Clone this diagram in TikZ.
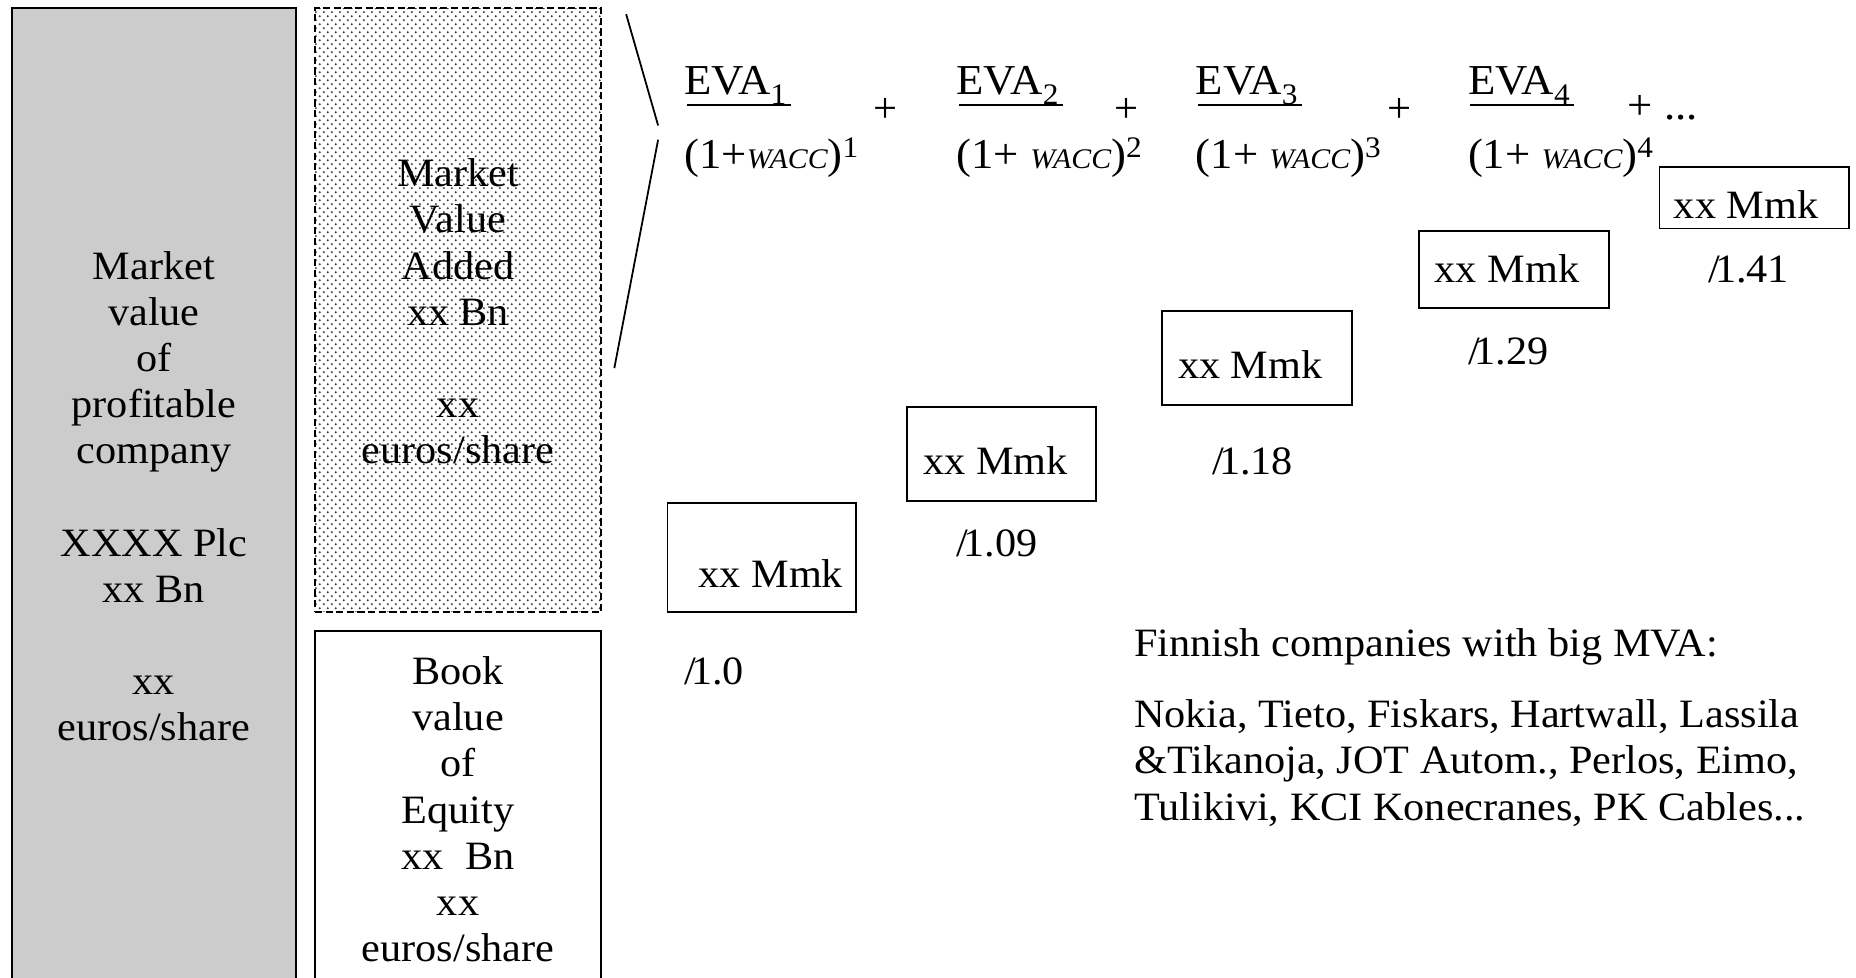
\documentclass[tikz,border=0pt]{standalone}
\usepackage{fontspec}
\setmainfont{Liberation Serif}
\usepackage{graphicx}
\usetikzlibrary{patterns.meta,calc}
\tikzdeclarepattern{
  name=mydots,
  type=uncolored,
  bottom left={(0pt,0pt)},
  top right={(7pt,7pt)},
  tile size={(7pt,7pt)},
  code={
    \pgfpathcircle{\pgfpoint{1.75pt}{1.75pt}}{1.05pt}
    \pgfpathcircle{\pgfpoint{5.25pt}{5.25pt}}{1.05pt}
    \pgfusepath{fill}
  }
}
\newcommand\fs{\fontsize{34}{39}\selectfont}
\newcommand\fsb{\fontsize{36}{40}\selectfont}
\newcommand\hs[1]{\scalebox{1.05}[1]{#1}}
\newcommand\wacc{{\itshape\fontsize{24}{24}\selectfont WACC}}
\newcommand\stackc[1]{\hs{\begin{tabular}{@{}c@{}}#1\end{tabular}}}
\begin{document}
\begin{tikzpicture}[x=1pt,y=-1pt,
  txt/.style={inner sep=0pt, font=\fs},
  eq/.style={inner sep=0pt, font=\fsb},
  bigbox/.style={draw, line width=1.6pt, inner sep=0pt},
  mbox/.style={draw, line width=1.5pt, inner sep=0pt},
  slashline/.style={line width=1.5pt},
  uline/.style={line width=1.6pt}]
\clip (0,0) rectangle (1568,826);
\fill[white] (0,0) rectangle (1568,826);
% left columns
\node[bigbox, fill=black!20, minimum width=240pt, minimum height=832pt] (mv) at (130,423) {};
\node[txt] (mvt) at (130,423)
  {\stackc{Market\\value\\of\\profitable\\company\\ \\XXXX Plc\\xx Bn\\ \\xx\\euros/share}};
\node[bigbox, dash pattern=on 6pt off 3pt, pattern={mydots}, pattern color=black!75,
  minimum width=242pt, minimum height=510pt] (mva) at (387,262) {};
\node[txt] (mvat) at (387,267)
  {\stackc{Market\\Value\\Added\\xx Bn\\ \\xx\\euros/share}};
\node[bigbox, minimum width=242pt, minimum height=309pt] (bv) at (387,687.5) {};
\node[txt] (bvt) at (387,687.5)
  {\stackc{Book\\value\\of\\Equity\\xx~~Bn\\xx\\euros/share}};
% brace lines
\coordinate (s1) at (529,12);
\coordinate (s2) at (556,106);
\coordinate (s3) at (556,118);
\coordinate (s4) at (519,311);
\draw[slashline] (s1) -- (s2);
\draw[slashline] (s3) -- (s4);
% fractions
\node[eq, anchor=base west] (n1) at (578,80) {\hs{EVA\textsubscript{1}}};
\node[eq, anchor=base west] (d1) at (578,142) {\hs{(1+\wacc)\textsuperscript{1}}};
\node[eq] (p1) at (748,93) {+};
\node[eq, anchor=base west] (n2) at (808,80) {\hs{EVA\textsubscript{2}}};
\node[eq, anchor=base west] (d2) at (808,142) {\hs{(1+ \wacc)\textsuperscript{2}}};
\node[eq] (p2) at (952,93) {+};
\node[eq, anchor=base west] (n3) at (1010,80) {\hs{EVA\textsubscript{3}}};
\node[eq, anchor=base west] (d3) at (1010,142) {\hs{(1+ \wacc)\textsuperscript{3}}};
\node[eq] (p3) at (1182,93) {+};
\node[eq, anchor=base west] (n4) at (1240,80) {\hs{EVA\textsubscript{4}}};
\node[eq, anchor=base west] (d4) at (1240,142) {\hs{(1+ \wacc)\textsuperscript{4}}};
\node[eq, anchor=base west] (p4) at (1375,101) {\hs{+ ...}};
\foreach \n in {n1,n2,n3,n4}
  \draw[uline] ($(\n.base west)+(2,9)$) -- ($(\n.base east)+(3,9)$);
% discounted boxes
\node[mbox, minimum width=159pt, minimum height=92pt] (m1) at (643.5,471) {};
\node[mbox, minimum width=160pt, minimum height=79pt] (m2) at (846,383.5) {};
\node[mbox, minimum width=160pt, minimum height=79pt] (m3) at (1062,302.5) {};
\node[mbox, minimum width=160pt, minimum height=65pt] (m4) at (1279,227.5) {};
\node[mbox, minimum width=160pt, minimum height=52pt] (m5) at (1482,167) {};
\node[txt, anchor=base west] (t1) at (590,496) {\hs{xx Mmk}};
\node[txt, anchor=base west] (t2) at (780,401) {\hs{xx Mmk}};
\node[txt, anchor=base west] (t3) at (995,320) {\hs{xx Mmk}};
\node[txt, anchor=base west] (t4) at (1212,239) {\hs{xx Mmk}};
\node[txt, anchor=base west] (t5) at (1414,185) {\hs{xx Mmk}};
% discount factors
\node[txt, anchor=base west] (r1) at (578,578) {\hs{/\kern-.12em1.0}};
\node[txt, anchor=base west] (r2) at (808,470) {\hs{/\kern-.12em1.09}};
\node[txt, anchor=base west] (r3) at (1024,401) {\hs{/\kern-.12em1.18}};
\node[txt, anchor=base west] (r4) at (1240,308) {\hs{/\kern-.12em1.29}};
\node[txt, anchor=base west] (r5) at (1443,239) {\hs{/\kern-.12em1.41}};
% Finnish companies
\node[txt, anchor=base west] (fin) at (958,555) {\hs{Finnish companies with big MVA:}};
\node[txt, anchor=west] (list) at (958,646)
  {\hs{\begin{tabular}{@{}l@{}}Nokia, Tieto, Fiskars, Hartwall, Lassila\\
  \&Tikanoja, JOT Autom., Perlos, Eimo,\\
  Tulikivi, KCI Konecranes, PK Cables...\end{tabular}}};
\end{tikzpicture}
\end{document}
